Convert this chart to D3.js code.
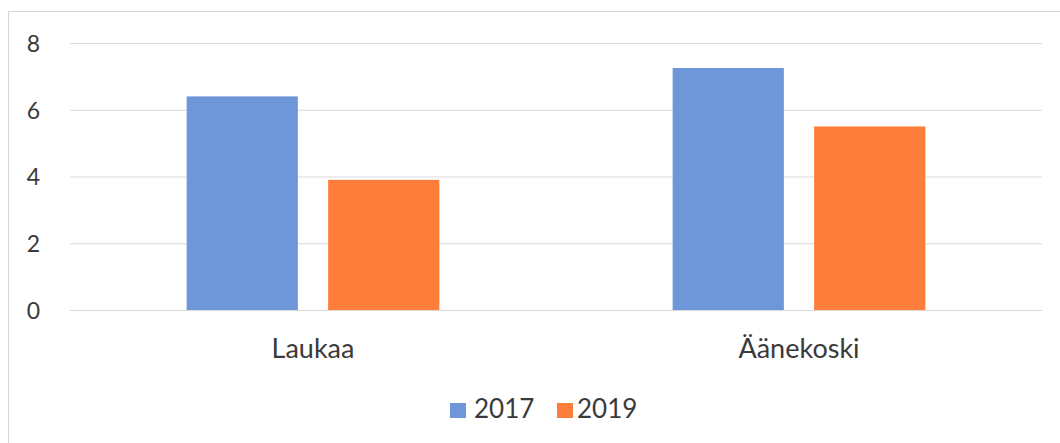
<!DOCTYPE html>
<html>
<head>
<meta charset="utf-8">
<script src="https://cdn.jsdelivr.net/npm/d3@7"></script>
<style>
  html, body { margin: 0; padding: 0; background: #fff; }
  svg { display: block; }
</style>
</head>
<body>
<svg id="chart" width="1060" height="443"></svg>
<script>
// Municipalities, years and values per year
const categories = ["Laukaa", "Äänekoski"];
const seriesNames = ["2017", "2019"];
const values2017 = [6.4, 7.25];
const values2019 = [3.9, 5.5];
const yTicks = [0, 2, 4, 6, 8];
const colors = ["#6d97d9", "#fd7e3a"];

const seriesValues = [values2017, values2019];
const rows = categories.map((c, i) => ({
  category: c,
  values: seriesNames.map((s, j) => ({ series: s, value: seriesValues[j][i] }))
}));

const svg = d3.select("#chart");
const font = "Lato, 'Open Sans', sans-serif";
const textColor = "#3a3a3a";

const plot = { left: 70, right: 1042, top: 43, bottom: 310 };

const y = d3.scaleLinear().domain([0, 8]).range([plot.bottom, plot.top]);
const x0 = d3.scaleBand().domain(categories).range([plot.left, plot.right])
  .paddingInner(0.48).paddingOuter(0.24);
const x1 = d3.scaleBand().domain(seriesNames).range([0, x0.bandwidth()])
  .paddingInner(0.214);
const color = d3.scaleOrdinal().domain(seriesNames).range(colors);

// Chart frame (left and top edges)
svg.append("path")
  .attr("d", "M8.5,443 L8.5,11.5 L1060,11.5")
  .attr("fill", "none")
  .attr("stroke", "#d4d4d4")
  .attr("stroke-width", 1);

// Horizontal gridlines
const yAxis = d3.axisLeft(y).tickValues(yTicks)
  .tickSize(-(plot.right - plot.left)).tickPadding(30);
const gy = svg.append("g").attr("transform", `translate(${plot.left},0)`).call(yAxis);
gy.select(".domain").remove();
gy.selectAll(".tick line").attr("stroke", "#d9d9d9").attr("stroke-width", 1);
gy.selectAll(".tick text")
  .attr("font-family", font).attr("font-size", 23)
  .attr("fill", textColor).attr("dy", "0.36em");

// Bars
svg.append("g").selectAll("g")
  .data(rows).join("g")
  .attr("transform", d => `translate(${x0(d.category)},0)`)
  .selectAll("rect")
  .data(d => d.values).join("rect")
  .attr("x", d => x1(d.series))
  .attr("width", x1.bandwidth())
  .attr("y", d => y(d.value))
  .attr("height", d => y(0) - y(d.value))
  .attr("fill", d => color(d.series));

// Category labels
const xAxis = d3.axisBottom(x0).tickSize(0).tickPadding(0);
const gx = svg.append("g").attr("transform", `translate(0,${plot.bottom})`).call(xAxis);
gx.select(".domain").remove();
gx.selectAll(".tick text")
  .attr("font-family", font).attr("font-size", 27)
  .attr("fill", textColor).attr("dy", 0).attr("y", 48);

// Legend
const legendItems = [
  { name: seriesNames[0], sx: 450, tx: 474 },
  { name: seriesNames[1], sx: 557, tx: 577 }
];
const legend = svg.append("g");
legend.selectAll("rect").data(legendItems).join("rect")
  .attr("x", d => d.sx).attr("y", 403)
  .attr("width", 16).attr("height", 15)
  .attr("fill", d => color(d.name));
legend.selectAll("text").data(legendItems).join("text")
  .attr("x", d => d.tx).attr("y", 418)
  .attr("font-family", font).attr("font-size", 26)
  .attr("fill", textColor)
  .text(d => d.name);
</script>
</body>
</html>
